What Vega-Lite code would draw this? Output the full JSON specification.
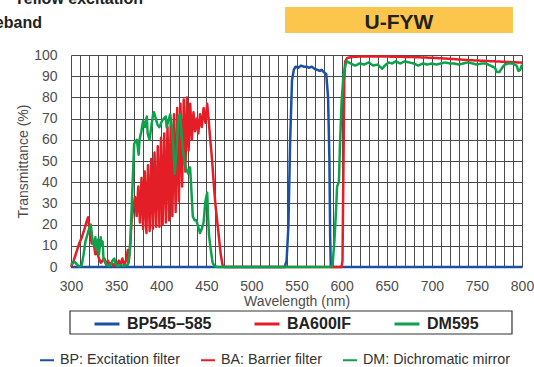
{
  "$schema": "https://vega.github.io/schema/vega-lite/v6.json",
  "width": 451,
  "height": 212,
  "autosize": {"type": "none"},
  "padding": {"left": 71, "top": 55, "right": 12, "bottom": 100},
  "background": "white",
  "config": {"view": {"stroke": null}},
  "datasets": {
    "desc": [
      {"filter": "BP545–585", "desc": "BP: Excitation filter"},
      {"filter": "BA600IF", "desc": "BA: Barrier filter"},
      {"filter": "DM595", "desc": "DM: Dichromatic mirror"}
    ],
    "spectra": [
      {"nm": 300, "pct": 0, "filter": "BP545–585"},
      {"nm": 537, "pct": 0, "filter": "BP545–585"},
      {"nm": 539, "pct": 3, "filter": "BP545–585"},
      {"nm": 541, "pct": 19, "filter": "BP545–585"},
      {"nm": 543, "pct": 60, "filter": "BP545–585"},
      {"nm": 545, "pct": 88, "filter": "BP545–585"},
      {"nm": 547, "pct": 93, "filter": "BP545–585"},
      {"nm": 549, "pct": 94.5, "filter": "BP545–585"},
      {"nm": 552, "pct": 94, "filter": "BP545–585"},
      {"nm": 555, "pct": 95, "filter": "BP545–585"},
      {"nm": 558, "pct": 94.5, "filter": "BP545–585"},
      {"nm": 561, "pct": 94.5, "filter": "BP545–585"},
      {"nm": 564, "pct": 94, "filter": "BP545–585"},
      {"nm": 567, "pct": 94.5, "filter": "BP545–585"},
      {"nm": 570, "pct": 93.5, "filter": "BP545–585"},
      {"nm": 573, "pct": 93, "filter": "BP545–585"},
      {"nm": 576, "pct": 92.5, "filter": "BP545–585"},
      {"nm": 578, "pct": 93, "filter": "BP545–585"},
      {"nm": 580, "pct": 92, "filter": "BP545–585"},
      {"nm": 583, "pct": 91, "filter": "BP545–585"},
      {"nm": 585, "pct": 80, "filter": "BP545–585"},
      {"nm": 586.5, "pct": 50, "filter": "BP545–585"},
      {"nm": 587.3, "pct": 15, "filter": "BP545–585"},
      {"nm": 588, "pct": 0, "filter": "BP545–585"},
      {"nm": 800, "pct": 0, "filter": "BP545–585"},

      {"nm": 300, "pct": 0, "filter": "BA600IF"},
      {"nm": 303, "pct": 3, "filter": "BA600IF"},
      {"nm": 306, "pct": 7, "filter": "BA600IF"},
      {"nm": 309, "pct": 11, "filter": "BA600IF"},
      {"nm": 312, "pct": 14, "filter": "BA600IF"},
      {"nm": 315, "pct": 18, "filter": "BA600IF"},
      {"nm": 317, "pct": 21, "filter": "BA600IF"},
      {"nm": 319, "pct": 23.5, "filter": "BA600IF"},
      {"nm": 320, "pct": 20, "filter": "BA600IF"},
      {"nm": 322, "pct": 14, "filter": "BA600IF"},
      {"nm": 323, "pct": 11, "filter": "BA600IF"},
      {"nm": 325, "pct": 12, "filter": "BA600IF"},
      {"nm": 327, "pct": 6, "filter": "BA600IF"},
      {"nm": 329, "pct": 7, "filter": "BA600IF"},
      {"nm": 331, "pct": 4, "filter": "BA600IF"},
      {"nm": 333, "pct": 2, "filter": "BA600IF"},
      {"nm": 335, "pct": 3, "filter": "BA600IF"},
      {"nm": 337, "pct": 4, "filter": "BA600IF"},
      {"nm": 339, "pct": 1, "filter": "BA600IF"},
      {"nm": 341, "pct": 3, "filter": "BA600IF"},
      {"nm": 343, "pct": 1, "filter": "BA600IF"},
      {"nm": 345, "pct": 2, "filter": "BA600IF"},
      {"nm": 347, "pct": 0.5, "filter": "BA600IF"},
      {"nm": 349, "pct": 2, "filter": "BA600IF"},
      {"nm": 351, "pct": 1, "filter": "BA600IF"},
      {"nm": 353, "pct": 3, "filter": "BA600IF"},
      {"nm": 355, "pct": 1, "filter": "BA600IF"},
      {"nm": 357, "pct": 4, "filter": "BA600IF"},
      {"nm": 359, "pct": 1, "filter": "BA600IF"},
      {"nm": 361, "pct": 3, "filter": "BA600IF"},
      {"nm": 363, "pct": 8, "filter": "BA600IF"},
      {"nm": 364, "pct": 2, "filter": "BA600IF"},
      {"nm": 366, "pct": 12, "filter": "BA600IF"},
      {"nm": 367, "pct": 21, "filter": "BA600IF"},
      {"nm": 369, "pct": 28, "filter": "BA600IF"},
      {"nm": 371, "pct": 33, "filter": "BA600IF"},
      {"nm": 372.8, "pct": 24, "filter": "BA600IF"},
      {"nm": 374.6, "pct": 38, "filter": "BA600IF"},
      {"nm": 376.4, "pct": 21, "filter": "BA600IF"},
      {"nm": 378.2, "pct": 42, "filter": "BA600IF"},
      {"nm": 380, "pct": 18, "filter": "BA600IF"},
      {"nm": 381.8, "pct": 45, "filter": "BA600IF"},
      {"nm": 383.6, "pct": 16, "filter": "BA600IF"},
      {"nm": 385.4, "pct": 48, "filter": "BA600IF"},
      {"nm": 387.2, "pct": 17, "filter": "BA600IF"},
      {"nm": 389, "pct": 51, "filter": "BA600IF"},
      {"nm": 390.8, "pct": 18, "filter": "BA600IF"},
      {"nm": 392.6, "pct": 54, "filter": "BA600IF"},
      {"nm": 394.4, "pct": 19, "filter": "BA600IF"},
      {"nm": 396.2, "pct": 57, "filter": "BA600IF"},
      {"nm": 398, "pct": 19, "filter": "BA600IF"},
      {"nm": 399.8, "pct": 61, "filter": "BA600IF"},
      {"nm": 401.6, "pct": 20, "filter": "BA600IF"},
      {"nm": 403.4, "pct": 63, "filter": "BA600IF"},
      {"nm": 405.2, "pct": 21, "filter": "BA600IF"},
      {"nm": 407, "pct": 66, "filter": "BA600IF"},
      {"nm": 408.8, "pct": 22, "filter": "BA600IF"},
      {"nm": 410.6, "pct": 70, "filter": "BA600IF"},
      {"nm": 412.4, "pct": 24, "filter": "BA600IF"},
      {"nm": 414.2, "pct": 72, "filter": "BA600IF"},
      {"nm": 416, "pct": 26, "filter": "BA600IF"},
      {"nm": 417.8, "pct": 75, "filter": "BA600IF"},
      {"nm": 419.6, "pct": 31, "filter": "BA600IF"},
      {"nm": 421.4, "pct": 77, "filter": "BA600IF"},
      {"nm": 423.2, "pct": 38, "filter": "BA600IF"},
      {"nm": 425, "pct": 79, "filter": "BA600IF"},
      {"nm": 426.8, "pct": 45, "filter": "BA600IF"},
      {"nm": 428.6, "pct": 80, "filter": "BA600IF"},
      {"nm": 430.4, "pct": 55, "filter": "BA600IF"},
      {"nm": 432.2, "pct": 77, "filter": "BA600IF"},
      {"nm": 434, "pct": 60, "filter": "BA600IF"},
      {"nm": 435.8, "pct": 73, "filter": "BA600IF"},
      {"nm": 437.6, "pct": 64, "filter": "BA600IF"},
      {"nm": 439.4, "pct": 70, "filter": "BA600IF"},
      {"nm": 441.2, "pct": 63, "filter": "BA600IF"},
      {"nm": 443, "pct": 72, "filter": "BA600IF"},
      {"nm": 445, "pct": 66, "filter": "BA600IF"},
      {"nm": 447, "pct": 75, "filter": "BA600IF"},
      {"nm": 449, "pct": 68, "filter": "BA600IF"},
      {"nm": 451, "pct": 77, "filter": "BA600IF"},
      {"nm": 452.5, "pct": 70, "filter": "BA600IF"},
      {"nm": 454, "pct": 62, "filter": "BA600IF"},
      {"nm": 455.5, "pct": 55, "filter": "BA600IF"},
      {"nm": 457, "pct": 47, "filter": "BA600IF"},
      {"nm": 458.5, "pct": 38, "filter": "BA600IF"},
      {"nm": 460, "pct": 30, "filter": "BA600IF"},
      {"nm": 462, "pct": 22, "filter": "BA600IF"},
      {"nm": 464, "pct": 14, "filter": "BA600IF"},
      {"nm": 466, "pct": 6, "filter": "BA600IF"},
      {"nm": 468, "pct": 1, "filter": "BA600IF"},
      {"nm": 470, "pct": 0, "filter": "BA600IF"},
      {"nm": 600, "pct": 0, "filter": "BA600IF"},
      {"nm": 601, "pct": 3, "filter": "BA600IF"},
      {"nm": 602, "pct": 45, "filter": "BA600IF"},
      {"nm": 603, "pct": 88, "filter": "BA600IF"},
      {"nm": 604, "pct": 97, "filter": "BA600IF"},
      {"nm": 606, "pct": 98.5, "filter": "BA600IF"},
      {"nm": 610, "pct": 99, "filter": "BA600IF"},
      {"nm": 620, "pct": 99.3, "filter": "BA600IF"},
      {"nm": 640, "pct": 99.3, "filter": "BA600IF"},
      {"nm": 660, "pct": 99.2, "filter": "BA600IF"},
      {"nm": 680, "pct": 99, "filter": "BA600IF"},
      {"nm": 700, "pct": 98.7, "filter": "BA600IF"},
      {"nm": 720, "pct": 98.2, "filter": "BA600IF"},
      {"nm": 740, "pct": 97.6, "filter": "BA600IF"},
      {"nm": 760, "pct": 97.2, "filter": "BA600IF"},
      {"nm": 780, "pct": 96.8, "filter": "BA600IF"},
      {"nm": 800, "pct": 96.4, "filter": "BA600IF"},

      {"nm": 300, "pct": 1, "filter": "DM595"},
      {"nm": 302, "pct": 2, "filter": "DM595"},
      {"nm": 304, "pct": 2.5, "filter": "DM595"},
      {"nm": 306, "pct": 1.5, "filter": "DM595"},
      {"nm": 308, "pct": 0.5, "filter": "DM595"},
      {"nm": 310, "pct": 0.3, "filter": "DM595"},
      {"nm": 312, "pct": 1, "filter": "DM595"},
      {"nm": 314, "pct": 6, "filter": "DM595"},
      {"nm": 316, "pct": 12, "filter": "DM595"},
      {"nm": 318, "pct": 15, "filter": "DM595"},
      {"nm": 320, "pct": 18, "filter": "DM595"},
      {"nm": 322, "pct": 20, "filter": "DM595"},
      {"nm": 323, "pct": 16, "filter": "DM595"},
      {"nm": 324, "pct": 12, "filter": "DM595"},
      {"nm": 326, "pct": 10, "filter": "DM595"},
      {"nm": 327, "pct": 14, "filter": "DM595"},
      {"nm": 328, "pct": 8, "filter": "DM595"},
      {"nm": 330, "pct": 13, "filter": "DM595"},
      {"nm": 331, "pct": 6, "filter": "DM595"},
      {"nm": 333, "pct": 14, "filter": "DM595"},
      {"nm": 334, "pct": 10, "filter": "DM595"},
      {"nm": 335, "pct": 12, "filter": "DM595"},
      {"nm": 336, "pct": 4, "filter": "DM595"},
      {"nm": 338, "pct": 2, "filter": "DM595"},
      {"nm": 340, "pct": 1, "filter": "DM595"},
      {"nm": 342, "pct": 0.5, "filter": "DM595"},
      {"nm": 344, "pct": 1, "filter": "DM595"},
      {"nm": 346, "pct": 3, "filter": "DM595"},
      {"nm": 348, "pct": 4, "filter": "DM595"},
      {"nm": 350, "pct": 1, "filter": "DM595"},
      {"nm": 352, "pct": 0.5, "filter": "DM595"},
      {"nm": 355, "pct": 1, "filter": "DM595"},
      {"nm": 358, "pct": 0.5, "filter": "DM595"},
      {"nm": 361, "pct": 1, "filter": "DM595"},
      {"nm": 363, "pct": 1, "filter": "DM595"},
      {"nm": 365, "pct": 7, "filter": "DM595"},
      {"nm": 366, "pct": 14, "filter": "DM595"},
      {"nm": 368, "pct": 36, "filter": "DM595"},
      {"nm": 370, "pct": 58, "filter": "DM595"},
      {"nm": 371, "pct": 59, "filter": "DM595"},
      {"nm": 373, "pct": 60, "filter": "DM595"},
      {"nm": 375, "pct": 53, "filter": "DM595"},
      {"nm": 376, "pct": 60, "filter": "DM595"},
      {"nm": 378, "pct": 64, "filter": "DM595"},
      {"nm": 380, "pct": 69, "filter": "DM595"},
      {"nm": 382, "pct": 66, "filter": "DM595"},
      {"nm": 384, "pct": 71, "filter": "DM595"},
      {"nm": 385, "pct": 63, "filter": "DM595"},
      {"nm": 387, "pct": 60, "filter": "DM595"},
      {"nm": 389, "pct": 66, "filter": "DM595"},
      {"nm": 391, "pct": 72, "filter": "DM595"},
      {"nm": 392, "pct": 73, "filter": "DM595"},
      {"nm": 394, "pct": 70, "filter": "DM595"},
      {"nm": 396, "pct": 67, "filter": "DM595"},
      {"nm": 398, "pct": 66, "filter": "DM595"},
      {"nm": 400, "pct": 68, "filter": "DM595"},
      {"nm": 401, "pct": 69, "filter": "DM595"},
      {"nm": 403, "pct": 70, "filter": "DM595"},
      {"nm": 405, "pct": 71, "filter": "DM595"},
      {"nm": 406, "pct": 66, "filter": "DM595"},
      {"nm": 408, "pct": 69, "filter": "DM595"},
      {"nm": 410, "pct": 72, "filter": "DM595"},
      {"nm": 412, "pct": 65, "filter": "DM595"},
      {"nm": 413, "pct": 60, "filter": "DM595"},
      {"nm": 415, "pct": 44, "filter": "DM595"},
      {"nm": 417, "pct": 55, "filter": "DM595"},
      {"nm": 419, "pct": 71, "filter": "DM595"},
      {"nm": 421, "pct": 72, "filter": "DM595"},
      {"nm": 423, "pct": 60, "filter": "DM595"},
      {"nm": 424, "pct": 55, "filter": "DM595"},
      {"nm": 426, "pct": 49, "filter": "DM595"},
      {"nm": 428, "pct": 46, "filter": "DM595"},
      {"nm": 430, "pct": 44, "filter": "DM595"},
      {"nm": 432, "pct": 47, "filter": "DM595"},
      {"nm": 433, "pct": 40, "filter": "DM595"},
      {"nm": 435, "pct": 24, "filter": "DM595"},
      {"nm": 437, "pct": 22, "filter": "DM595"},
      {"nm": 439, "pct": 22, "filter": "DM595"},
      {"nm": 441, "pct": 19, "filter": "DM595"},
      {"nm": 443, "pct": 16, "filter": "DM595"},
      {"nm": 445, "pct": 18, "filter": "DM595"},
      {"nm": 447, "pct": 21, "filter": "DM595"},
      {"nm": 449, "pct": 31, "filter": "DM595"},
      {"nm": 451, "pct": 35, "filter": "DM595"},
      {"nm": 452, "pct": 24, "filter": "DM595"},
      {"nm": 453, "pct": 15, "filter": "DM595"},
      {"nm": 455, "pct": 8, "filter": "DM595"},
      {"nm": 457, "pct": 2, "filter": "DM595"},
      {"nm": 459, "pct": 0.5, "filter": "DM595"},
      {"nm": 462, "pct": 0, "filter": "DM595"},
      {"nm": 588, "pct": 0, "filter": "DM595"},
      {"nm": 590, "pct": 1, "filter": "DM595"},
      {"nm": 592, "pct": 12, "filter": "DM595"},
      {"nm": 594, "pct": 28, "filter": "DM595"},
      {"nm": 595, "pct": 38, "filter": "DM595"},
      {"nm": 597, "pct": 40, "filter": "DM595"},
      {"nm": 598, "pct": 55, "filter": "DM595"},
      {"nm": 600, "pct": 78, "filter": "DM595"},
      {"nm": 602, "pct": 90, "filter": "DM595"},
      {"nm": 604, "pct": 95, "filter": "DM595"},
      {"nm": 606, "pct": 97, "filter": "DM595"},
      {"nm": 610, "pct": 96, "filter": "DM595"},
      {"nm": 615, "pct": 95, "filter": "DM595"},
      {"nm": 620, "pct": 96, "filter": "DM595"},
      {"nm": 625, "pct": 95.5, "filter": "DM595"},
      {"nm": 630, "pct": 96.5, "filter": "DM595"},
      {"nm": 635, "pct": 95, "filter": "DM595"},
      {"nm": 640, "pct": 95.5, "filter": "DM595"},
      {"nm": 645, "pct": 93.5, "filter": "DM595"},
      {"nm": 648, "pct": 95, "filter": "DM595"},
      {"nm": 652, "pct": 96.5, "filter": "DM595"},
      {"nm": 656, "pct": 96, "filter": "DM595"},
      {"nm": 660, "pct": 97, "filter": "DM595"},
      {"nm": 665, "pct": 96, "filter": "DM595"},
      {"nm": 670, "pct": 97, "filter": "DM595"},
      {"nm": 675, "pct": 96.5, "filter": "DM595"},
      {"nm": 680, "pct": 96, "filter": "DM595"},
      {"nm": 685, "pct": 95, "filter": "DM595"},
      {"nm": 690, "pct": 96, "filter": "DM595"},
      {"nm": 695, "pct": 95.5, "filter": "DM595"},
      {"nm": 700, "pct": 96, "filter": "DM595"},
      {"nm": 705, "pct": 95.5, "filter": "DM595"},
      {"nm": 710, "pct": 96, "filter": "DM595"},
      {"nm": 715, "pct": 96.5, "filter": "DM595"},
      {"nm": 720, "pct": 96, "filter": "DM595"},
      {"nm": 725, "pct": 96, "filter": "DM595"},
      {"nm": 730, "pct": 95.5, "filter": "DM595"},
      {"nm": 735, "pct": 96, "filter": "DM595"},
      {"nm": 740, "pct": 96.5, "filter": "DM595"},
      {"nm": 745, "pct": 96, "filter": "DM595"},
      {"nm": 750, "pct": 95.5, "filter": "DM595"},
      {"nm": 755, "pct": 96, "filter": "DM595"},
      {"nm": 760, "pct": 96, "filter": "DM595"},
      {"nm": 765, "pct": 95, "filter": "DM595"},
      {"nm": 770, "pct": 94, "filter": "DM595"},
      {"nm": 772, "pct": 92, "filter": "DM595"},
      {"nm": 775, "pct": 92, "filter": "DM595"},
      {"nm": 778, "pct": 94, "filter": "DM595"},
      {"nm": 781, "pct": 95.5, "filter": "DM595"},
      {"nm": 785, "pct": 96, "filter": "DM595"},
      {"nm": 790, "pct": 96, "filter": "DM595"},
      {"nm": 794, "pct": 95, "filter": "DM595"},
      {"nm": 796, "pct": 92.5, "filter": "DM595"},
      {"nm": 798, "pct": 93, "filter": "DM595"},
      {"nm": 800, "pct": 95.5, "filter": "DM595"}
    ]
  },
  "layer": [
    {
      "data": {"name": "spectra"},
      "transform": [
        {"lookup": "filter", "from": {"data": {"name": "desc"}, "key": "filter", "fields": ["desc"]}}
      ],
      "encoding": {
        "x": {
          "field": "nm", "type": "quantitative",
          "scale": {"domain": [300, 800], "nice": false},
          "axis": {
            "values": [300,310,320,330,340,350,360,370,380,390,400,410,420,430,440,450,460,470,480,490,500,510,520,530,540,550,560,570,580,590,600,610,620,630,640,650,660,670,680,690,700,710,720,730,740,750,760,770,780,790,800],
            "tickCount": 100,
            "labelExpr": "datum.value % 50 === 0 ? datum.label : ''",
            "format": "d",
            "grid": true, "gridColor": "#4a4a4a", "gridWidth": 1, "gridOpacity": 1,
            "ticks": false, "domain": false,
            "labelPadding": 12, "labelFontSize": 14, "labelFont": "Liberation Sans", "labelColor": "#4d4d4d",
            "labelOverlap": false, "labelFlush": false, "labelBound": false,
            "title": "Wavelength (nm)", "titleFontSize": 14, "titleFont": "Liberation Sans", "titleFontWeight": "normal", "titleColor": "#4d4d4d", "titlePadding": 1
          }
        },
        "y": {
          "field": "pct", "type": "quantitative",
          "scale": {"domain": [0, 100], "nice": false},
          "axis": {
            "values": [0,10,20,30,40,50,60,70,80,90,100],
            "tickCount": 20,
            "format": "d",
            "grid": true, "gridColor": "#4a4a4a", "gridWidth": 1, "gridOpacity": 1,
            "ticks": false, "domain": false,
            "labelPadding": 14, "labelFontSize": 14, "labelFont": "Liberation Sans", "labelColor": "#4d4d4d",
            "labelOverlap": false, "labelFlush": false,
            "title": "Transmittance (%)", "titleFontSize": 14, "titleFont": "Liberation Sans", "titleFontWeight": "normal", "titleColor": "#4d4d4d", "titlePadding": 3
          }
        },
        "stroke": {
          "field": "filter", "type": "nominal",
          "scale": {"domain": ["BP545–585", "BA600IF", "DM595"], "range": ["#1a51a3", "#e31e26", "#0ea14b"]},
          "legend": {
            "orient": "none", "legendX": 22, "legendY": 255, "direction": "horizontal", "title": null,
            "symbolType": "stroke", "symbolSize": 625, "symbolStrokeWidth": 3,
            "labelFont": "Liberation Sans", "labelFontWeight": "bold", "labelFontSize": 16, "labelColor": "#222222",
            "labelOffset": 6, "columnPadding": 36, "padding": 0, "labelLimit": 300
          }
        },
        "strokeDash": {
          "field": "desc", "type": "nominal",
          "scale": {"domain": ["BP: Excitation filter", "BA: Barrier filter", "DM: Dichromatic mirror"], "range": [[1, 0], [1, 0], [1, 0]]},
          "legend": {
            "orient": "none", "legendX": -32, "legendY": 297, "direction": "horizontal", "title": null,
            "symbolType": "stroke", "symbolSize": 196, "symbolStrokeWidth": 2,
            "labelFont": "Liberation Sans", "labelFontSize": 14.3, "labelColor": "#333333",
            "labelOffset": 5, "columnPadding": 17, "padding": 0, "labelLimit": 300,
            "encode": {"symbols": {"update": {"stroke": {"signal": "datum.value === 'BP: Excitation filter' ? '#1a51a3' : datum.value === 'BA: Barrier filter' ? '#e31e26' : '#0ea14b'"}}}}
          }
        }
      },
      "layer": [
        {"transform": [{"filter": {"field": "filter", "equal": "BP545–585"}}], "mark": {"type": "line", "strokeWidth": 2.5, "strokeJoin": "round"}},
        {"transform": [{"filter": {"field": "filter", "equal": "BA600IF"}}], "mark": {"type": "line", "strokeWidth": 2.5, "strokeJoin": "round"}},
        {"transform": [{"filter": {"field": "filter", "equal": "DM595"}}], "mark": {"type": "line", "strokeWidth": 2.5, "strokeJoin": "round"}}
      ]
    },
    {
      "data": {"values": [{}]},
      "mark": {"type": "rect", "clip": false, "fill": "#FCC64C"},
      "encoding": {
        "x": {"datum": 537.3, "type": "quantitative", "scale": {"domain": [300, 800], "nice": false}},
        "x2": {"datum": 790},
        "y": {"datum": 122.6, "type": "quantitative", "scale": {"domain": [0, 100], "nice": false}},
        "y2": {"datum": 110.4}
      }
    },
    {
      "data": {"values": [{}]},
      "mark": {"type": "text", "clip": false, "text": "U-FYW", "align": "center", "baseline": "alphabetic", "font": "Liberation Sans", "fontWeight": "bold", "fontSize": 21, "fill": "#222222"},
      "encoding": {
        "x": {"datum": 663.6, "type": "quantitative", "scale": {"domain": [300, 800], "nice": false}},
        "y": {"datum": 112.1, "type": "quantitative", "scale": {"domain": [0, 100], "nice": false}}
      }
    },
    {
      "data": {"values": [{}]},
      "mark": {"type": "text", "clip": false, "text": "Wideband", "align": "right", "baseline": "alphabetic", "font": "Liberation Sans", "fontWeight": "bold", "fontSize": 16, "fill": "#222222"},
      "encoding": {
        "x": {"datum": 267.8, "type": "quantitative", "scale": {"domain": [300, 800], "nice": false}},
        "y": {"datum": 112.7, "type": "quantitative", "scale": {"domain": [0, 100], "nice": false}}
      }
    },
    {
      "data": {"values": [{}]},
      "mark": {"type": "text", "clip": false, "text": "Yellow excitation", "align": "right", "baseline": "alphabetic", "font": "Liberation Sans", "fontWeight": "bold", "fontSize": 16, "fill": "#222222"},
      "encoding": {
        "x": {"datum": 379.8, "type": "quantitative", "scale": {"domain": [300, 800], "nice": false}},
        "y": {"datum": 124.1, "type": "quantitative", "scale": {"domain": [0, 100], "nice": false}}
      }
    },
    {
      "data": {"values": [{}]},
      "mark": {"type": "rect", "clip": false, "fill": "white", "stroke": "#333333", "strokeWidth": 1.2},
      "encoding": {
        "x": {"datum": 298.9, "type": "quantitative", "scale": {"domain": [300, 800], "nice": false}},
        "x2": {"datum": 788.9},
        "y": {"datum": -20.75, "type": "quantitative", "scale": {"domain": [0, 100], "nice": false}},
        "y2": {"datum": -31.6}
      }
    }
  ]
}
